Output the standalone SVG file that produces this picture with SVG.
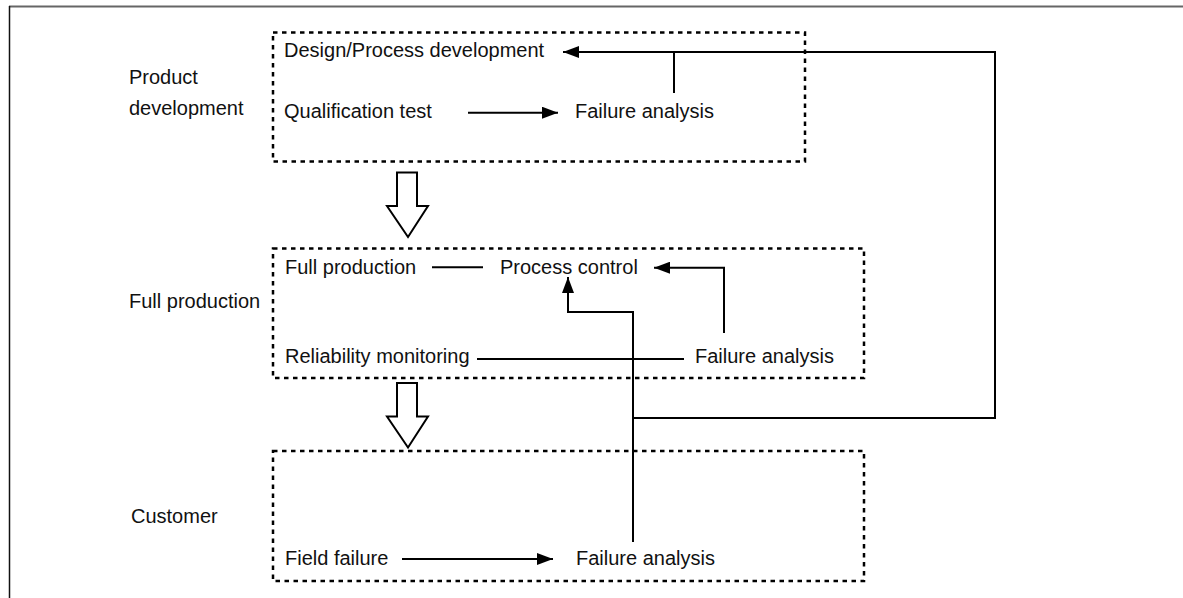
<svg xmlns="http://www.w3.org/2000/svg" width="1183" height="598" viewBox="0 0 1183 598">
<style>
text{font-family:"Liberation Sans",Arial,sans-serif;font-size:20px;fill:#111}
.box{fill:none;stroke:#000;stroke-width:2.5;stroke-dasharray:4.5 4.5}
.ln{fill:none;stroke:#000;stroke-width:2}
.blk{fill:#fff;stroke:#000;stroke-width:2}
</style>
<defs>
<marker id="ah" markerUnits="userSpaceOnUse" markerWidth="16" markerHeight="12" refX="16" refY="6" orient="auto">
<path d="M0,0 L16,6 L0,12 z" fill="#000"/>
</marker>
</defs>
<rect width="1183" height="598" fill="#fff"/>
<g id="frame">
<line x1="9" y1="6.5" x2="1183" y2="6.5" stroke="#666" stroke-width="2"/>
<line x1="9.5" y1="6" x2="9.5" y2="598" stroke="#111" stroke-width="1.5"/>
</g>
<g id="labels">
<text x="129" y="84">Product</text>
<text x="129" y="115">development</text>
<text x="129" y="308">Full production</text>
<text x="131" y="523">Customer</text>
</g>
<g id="stage-product">
<rect class="box" x="273" y="32.5" width="532" height="129"/>
</g>
<g id="stage-production">
<rect class="box" x="273" y="248.5" width="591" height="129.5"/>
</g>
<g id="stage-customer">
<rect class="box" x="273" y="451" width="591" height="130"/>
</g>
<g id="n-design"><text x="284" y="57">Design/Process development</text></g>
<g id="n-qual"><text x="284" y="118">Qualification test</text></g>
<g id="n-fa1"><text x="575" y="118">Failure analysis</text></g>
<g id="n-fullprod"><text x="285" y="274">Full production</text></g>
<g id="n-pc"><text x="500" y="274">Process control</text></g>
<g id="n-rel"><text x="285" y="363">Reliability monitoring</text></g>
<g id="n-fa2"><text x="695" y="363">Failure analysis</text></g>
<g id="n-field"><text x="285" y="565">Field failure</text></g>
<g id="n-fa3"><text x="576" y="565">Failure analysis</text></g>
<g id="block-arrows">
<polygon class="blk" points="397,172.5 417,172.5 417,206 428,206 408,237 387,206 397,206"/>
<polygon class="blk" points="397,383 417,383 417,416.5 428,416.5 408,447.5 387,416.5 397,416.5"/>
</g>
<g id="connectors">
<line class="ln" x1="468" y1="112.7" x2="558" y2="112.7" marker-end="url(#ah)"/>
<line class="ln" x1="674" y1="93" x2="674" y2="52"/>
<path class="ln" d="M633,418 H995 V52 H563" marker-end="url(#ah)"/>
<path class="ln" d="M633,542 V312 H568 V277" marker-end="url(#ah)"/>
<path class="ln" d="M724,333 V267.7 H654" marker-end="url(#ah)"/>
<line class="ln" x1="432" y1="267.3" x2="483" y2="267.3"/>
<line class="ln" x1="477" y1="359" x2="684" y2="359"/>
<line class="ln" x1="402" y1="559" x2="553" y2="559" marker-end="url(#ah)"/>
</g>
</svg>
